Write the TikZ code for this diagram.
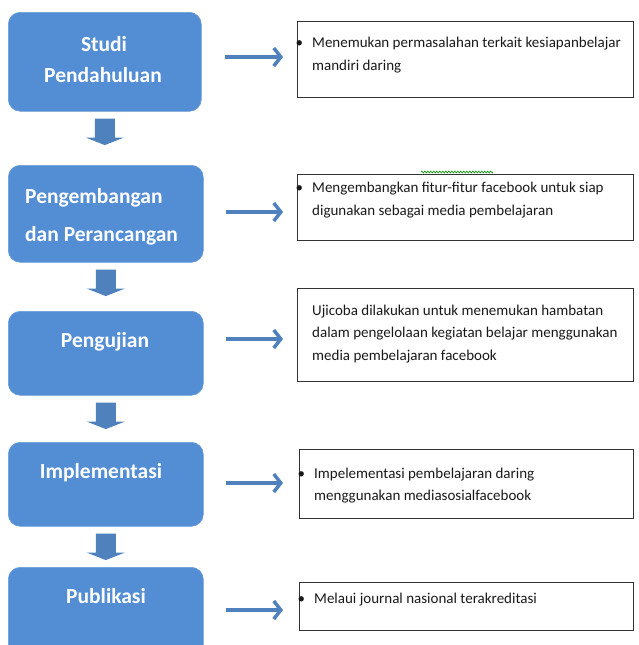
\documentclass[tikz,border=0pt]{standalone}
\usepackage{fontspec}
\setmainfont{Carlito}
\usetikzlibrary{arrows.meta,decorations.pathmorphing}
\definecolor{boxblue}{RGB}{83,141,212}
\definecolor{arrowblue}{RGB}{79,129,189}
\definecolor{txt}{RGB}{25,25,25}
\tikzset{
  stepbox/.style={fill=boxblue, draw=boxblue!85!white, line width=0.6pt, rounded corners=12pt, anchor=north west, inner sep=0pt},
  steptext/.style={text=white, font=\bfseries\fontsize{21.5}{32}\selectfont, inner sep=0pt, anchor=base},
  infobox/.style={draw=black!80, line width=1.3pt, anchor=north west, inner sep=0pt},
  infotext/.style={text=txt, font=\fontsize{15}{22.7}\selectfont, inner sep=0pt, anchor=base west, align=left},
  rarrow/.style={draw=arrowblue, line width=3.5pt, -{Straight Barb[length=7pt,width=18pt]}},
  darrow/.style={fill=arrowblue}
}
\newcommand{\bul}{\makebox[0pt][r]{\textbullet\hspace{9pt}}}
\begin{document}
\begin{tikzpicture}[x=1pt,y=-1pt]
\useasboundingbox (0,0) rectangle (638,645);
% step boxes
\node[stepbox, minimum width=193pt, minimum height=99pt] (s1) at (8,12) {};
\node[stepbox, minimum width=195pt, minimum height=97pt] (s2) at (8,165) {};
\node[stepbox, minimum width=195pt, minimum height=84pt] (s3) at (8,311) {};
\node[stepbox, minimum width=195pt, minimum height=84pt] (s4) at (8,442) {};
\node[stepbox, minimum width=195pt, minimum height=100pt] (s5) at (8,567) {};
% step texts
\node[steptext] (l1a) at (104,51) {Studi};
\node[steptext] (l1b) at (103,82) {Pendahuluan};
\node[steptext, anchor=base west] (l2a) at (25,203) {Pengembangan};
\node[steptext, anchor=base west] (l2b) at (25,241) {dan Perancangan};
\node[steptext] (l3) at (105,347) {Pengujian};
\node[steptext] (l4) at (101,478) {Implementasi};
\node[steptext] (l5) at (106,603) {Publikasi};
% info boxes
\node[infobox, minimum width=336pt, minimum height=76pt] (t1) at (297,21) {};
\node[infobox, minimum width=336pt, minimum height=66pt] (t2) at (297,174) {};
\node[infobox, minimum width=336pt, minimum height=93pt] (t3) at (297,288) {};
\node[infobox, minimum width=334pt, minimum height=69pt] (t4) at (299,449) {};
\node[infobox, minimum width=334pt, minimum height=48pt] (t5) at (299,582) {};
% info texts
\node[infotext] (i1a) at (312,47) {\bul Menemukan permasalahan terkait kesiapanbelajar};
\node[infotext] (i1b) at (312,70) {mandiri daring};
\node[infotext] (i2a) at (312,192) {\bul Mengembangkan fitur-fitur facebook untuk siap};
\node[infotext] (i2b) at (312,215) {digunakan sebagai media pembelajaran};
\node[infotext] (i3a) at (312,315) {Ujicoba dilakukan untuk menemukan hambatan};
\node[infotext] (i3b) at (312,337) {dalam pengelolaan kegiatan belajar menggunakan};
\node[infotext] (i3c) at (312,360) {media pembelajaran facebook};
\node[infotext] (i4a) at (314,478) {\bul Impelementasi pembelajaran daring};
\node[infotext] (i4b) at (314,500) {menggunakan mediasosialfacebook};
\node[infotext] (i5) at (314,603) {\bul Melaui journal nasional terakreditasi};
% spell-check squiggle
\draw[green!60!black, line width=0.6pt, decorate, decoration={zigzag, amplitude=1pt, segment length=3pt}] (421,172) -- (493,172);
% right arrows
\coordinate (a1) at (0,57);
\coordinate (a2) at (0,212);
\coordinate (a3) at (0,339);
\coordinate (a4) at (0,483);
\coordinate (a5) at (0,610);
\draw[rarrow] ([xshift=23pt]s1.east |- a1) -- ([xshift=-14pt]t1.west |- a1);
\draw[rarrow] ([xshift=22pt]s2.east |- a2) -- ([xshift=-14pt]t2.west |- a2);
\draw[rarrow] ([xshift=22pt]s3.east |- a3) -- ([xshift=-14pt]t3.west |- a3);
\draw[rarrow] ([xshift=22pt]s4.east |- a4) -- ([xshift=-16pt]t4.west |- a4);
\draw[rarrow] ([xshift=22pt]s5.east |- a5) -- ([xshift=-16pt]t5.west |- a5);
% down block arrows
\foreach \a/\b in {s1/s2, s2/s3, s3/s4, s4/s5}{
  \fill[darrow] ([yshift=-7pt]\a.south) ++(-10,0) -- ++(20,0) -- ++(0,19) -- ++(9,0) -- ++(-19,7.5) -- ++(-19,-7.5) -- ++(9,0) -- cycle;
}
\end{tikzpicture}
\end{document}
